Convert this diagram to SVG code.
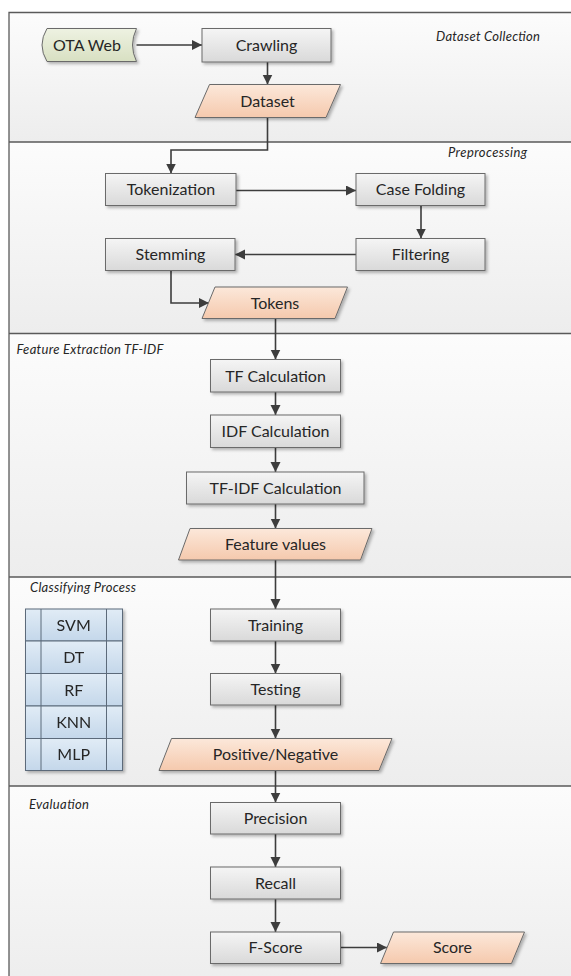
<svg xmlns="http://www.w3.org/2000/svg" width="571" height="976" viewBox="0 0 571 976">
  <defs>
    <linearGradient id="laneBg" x1="0" y1="0" x2="0" y2="1">
      <stop offset="0" stop-color="#fcfcfc"/>
      <stop offset="1" stop-color="#ededed"/>
    </linearGradient>
    <linearGradient id="procFill" x1="0" y1="0" x2="0" y2="1">
      <stop offset="0" stop-color="#f5f5f5"/>
      <stop offset="1" stop-color="#d9d9d9"/>
    </linearGradient>
    <linearGradient id="dataFill" x1="0" y1="0" x2="0" y2="1">
      <stop offset="0" stop-color="#fce8da"/>
      <stop offset="1" stop-color="#f5c9ad"/>
    </linearGradient>
    <linearGradient id="storeFill" x1="0" y1="0" x2="0" y2="1">
      <stop offset="0" stop-color="#eef2e2"/>
      <stop offset="1" stop-color="#d8e0c2"/>
    </linearGradient>
    <linearGradient id="cellFill" x1="0" y1="0" x2="0" y2="1">
      <stop offset="0" stop-color="#e1ecf6"/>
      <stop offset="1" stop-color="#c4d7ea"/>
    </linearGradient>
    <filter id="shadow" x="-10%" y="-10%" width="130%" height="140%">
      <feDropShadow dx="2" dy="2" stdDeviation="1.4" flood-color="#000" flood-opacity="0.28"/>
    </filter>
    <marker id="arrow" markerUnits="userSpaceOnUse" markerWidth="11" markerHeight="11" refX="10" refY="5" orient="auto">
      <path d="M0,0 L10,5 L0,10 Z" fill="#3d3d3d"/>
    </marker>
    <style>
      .lane { fill: url(#laneBg); }
      .frame { fill: none; stroke: #5a5a5a; stroke-width: 1.3; }
      .proc { fill: url(#procFill); stroke: #6a6a6a; stroke-width: 1; filter: url(#shadow); }
      .data { fill: url(#dataFill); stroke: #6a6a6a; stroke-width: 1; filter: url(#shadow); }
      .store { fill: url(#storeFill); stroke: #6a6a6a; stroke-width: 1; filter: url(#shadow); }
      .cell { fill: url(#cellFill); stroke: #5b6b7a; stroke-width: 1; }
      .tbl { filter: url(#shadow); }
      .txt { font-family: Lato, "Liberation Sans", sans-serif; font-size: 16px; fill: #262626; text-anchor: middle; }
      .lbl { font-family: Lato, "Liberation Sans", sans-serif; font-size: 13px; font-style: italic; fill: #262626; }
      .conn { fill: none; stroke: #3d3d3d; stroke-width: 1.6; marker-end: url(#arrow); }
    </style>
  </defs>

  <rect width="571" height="976" fill="#ffffff"/>

  <!-- swimlanes -->
  <g id="lanes">
    <rect class="lane" x="9" y="12.5" width="570" height="129.5"/>
    <rect class="lane" x="9" y="142" width="570" height="191.5"/>
    <rect class="lane" x="9" y="333.5" width="570" height="243.5"/>
    <rect class="lane" x="9" y="577" width="570" height="209"/>
    <rect class="lane" x="9" y="786" width="570" height="200"/>
    <path class="frame" d="M9,990 V12.5 H580 M9,142 H580 M9,333.5 H580 M9,577 H580 M9,786 H580"/>
    <text class="lbl" x="436" y="41" textLength="104">Dataset Collection</text>
    <text class="lbl" x="448" y="157" textLength="79">Preprocessing</text>
    <text class="lbl" x="16.5" y="354" textLength="147">Feature Extraction TF-IDF</text>
    <text class="lbl" x="30" y="592" textLength="106">Classifying Process</text>
    <text class="lbl" x="29" y="809" textLength="60">Evaluation</text>
  </g>

  <!-- connectors -->
  <g id="connectors">
    <path class="conn" d="M136.5,45 H202"/>
    <path class="conn" d="M267.5,62 V84.5"/>
    <path class="conn" d="M267.5,117.5 V150 H171 V173.5"/>
    <path class="conn" d="M236,190.5 H356"/>
    <path class="conn" d="M421,205.5 V238.5"/>
    <path class="conn" d="M356,254.5 H235"/>
    <path class="conn" d="M171,270.5 V303 H209"/>
    <path class="conn" d="M275.5,318.5 V359.5"/>
    <path class="conn" d="M275.5,392 V415"/>
    <path class="conn" d="M275.5,447.5 V472"/>
    <path class="conn" d="M275.5,504 V528.5"/>
    <path class="conn" d="M275.5,560 V609"/>
    <path class="conn" d="M275.5,641 V673.5"/>
    <path class="conn" d="M275.5,705 V738.5"/>
    <path class="conn" d="M275.5,770.5 V802.5"/>
    <path class="conn" d="M275.5,834 V867"/>
    <path class="conn" d="M275.5,899 V932"/>
    <path class="conn" d="M340.5,947.5 H387"/>
  </g>

  <!-- Dataset Collection -->
  <g id="ota-web">
    <path class="store" d="M47,28.5 H136.5 Q128.5,45 136.5,61.5 H47 Q37,45 47,28.5 Z"/>
    <text class="txt" x="87" y="51">OTA Web</text>
  </g>
  <g id="crawling">
    <rect class="proc" x="202" y="28.5" width="129" height="33.5"/>
    <text class="txt" x="266.5" y="51">Crawling</text>
  </g>
  <g id="dataset">
    <path class="data" d="M209.5,84.5 H340.5 L326,117.5 H195 Z"/>
    <text class="txt" x="267.5" y="106.5">Dataset</text>
  </g>

  <!-- Preprocessing -->
  <g id="tokenization">
    <rect class="proc" x="105.5" y="173.5" width="130.5" height="32"/>
    <text class="txt" x="171" y="195">Tokenization</text>
  </g>
  <g id="case-folding">
    <rect class="proc" x="356" y="173.5" width="129" height="32"/>
    <text class="txt" x="420.5" y="195">Case Folding</text>
  </g>
  <g id="filtering">
    <rect class="proc" x="356" y="238.5" width="129" height="32"/>
    <text class="txt" x="420.5" y="260">Filtering</text>
  </g>
  <g id="stemming">
    <rect class="proc" x="105.5" y="238.5" width="129.5" height="32"/>
    <text class="txt" x="170.5" y="260">Stemming</text>
  </g>
  <g id="tokens">
    <path class="data" d="M215,287 H347.5 L335,318.5 H202 Z"/>
    <text class="txt" x="275" y="308.5">Tokens</text>
  </g>

  <!-- Feature Extraction TF-IDF -->
  <g id="tf-calculation">
    <rect class="proc" x="210.5" y="359.5" width="130" height="32.5"/>
    <text class="txt" x="275.5" y="381.5">TF Calculation</text>
  </g>
  <g id="idf-calculation">
    <rect class="proc" x="210.5" y="415" width="130" height="32.5"/>
    <text class="txt" x="275.5" y="437">IDF Calculation</text>
  </g>
  <g id="tfidf-calculation">
    <rect class="proc" x="186.5" y="472" width="177.5" height="32"/>
    <text class="txt" x="275.5" y="493.5">TF-IDF Calculation</text>
  </g>
  <g id="feature-values">
    <path class="data" d="M190,528.5 H372 L360.5,560 H178.5 Z"/>
    <text class="txt" x="275.5" y="550">Feature values</text>
  </g>

  <!-- Classifying Process -->
  <g id="classifiers" class="tbl">
    <rect class="cell" x="25.5" y="609" width="97" height="32"/>
    <rect class="cell" x="25.5" y="641" width="97" height="32.5"/>
    <rect class="cell" x="25.5" y="673.5" width="97" height="32.5"/>
    <rect class="cell" x="25.5" y="706" width="97" height="32.5"/>
    <rect class="cell" x="25.5" y="738.5" width="97" height="32"/>
    <path d="M41,609 V770.5 M106.5,609 V770.5" fill="none" stroke="#5b6b7a" stroke-width="1"/>
    <text class="txt" x="73.7" y="630.5">SVM</text>
    <text class="txt" x="73.7" y="663">DT</text>
    <text class="txt" x="73.7" y="695.5">RF</text>
    <text class="txt" x="73.7" y="728">KNN</text>
    <text class="txt" x="73.7" y="760">MLP</text>
  </g>
  <g id="training">
    <rect class="proc" x="210.5" y="609" width="130" height="32"/>
    <text class="txt" x="275.5" y="630.5">Training</text>
  </g>
  <g id="testing">
    <rect class="proc" x="210.5" y="673.5" width="130" height="31.5"/>
    <text class="txt" x="275.5" y="695">Testing</text>
  </g>
  <g id="positive-negative">
    <path class="data" d="M171.5,738.5 H392 L379,770.5 H159 Z"/>
    <text class="txt" x="275.5" y="760">Positive/Negative</text>
  </g>

  <!-- Evaluation -->
  <g id="precision">
    <rect class="proc" x="210.5" y="802.5" width="130" height="31.5"/>
    <text class="txt" x="275.5" y="824">Precision</text>
  </g>
  <g id="recall">
    <rect class="proc" x="210.5" y="867" width="130" height="32"/>
    <text class="txt" x="275.5" y="888.5">Recall</text>
  </g>
  <g id="f-score">
    <rect class="proc" x="210.5" y="932" width="130" height="31.5"/>
    <text class="txt" x="275.5" y="953">F-Score</text>
  </g>
  <g id="score">
    <path class="data" d="M393.5,932 H524.5 L511.5,963.5 H380.5 Z"/>
    <text class="txt" x="452.5" y="953">Score</text>
  </g>
</svg>
